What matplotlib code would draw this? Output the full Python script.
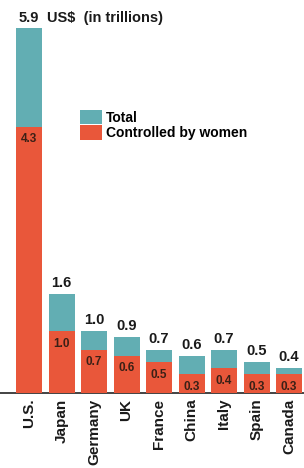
import matplotlib
matplotlib.use("Agg")
import matplotlib.pyplot as plt
import numpy as np

countries = ["U.S.", "Japan", "Germany", "UK", "France", "China", "Italy", "Spain", "Canada"]
total = [5.9, 1.6, 1.0, 0.9, 0.7, 0.6, 0.7, 0.5, 0.4]
women = [4.3, 1.0, 0.7, 0.6, 0.5, 0.3, 0.4, 0.3, 0.3]

teal = "#62aeb3"
orange = "#e9573a"
dark = "#1a1a1a"

plt.rcParams['font.family'] = ['Liberation Sans', 'DejaVu Sans']

fig = plt.figure(figsize=(3.04, 4.68), dpi=100)
ax = fig.add_axes([0, 1 - 393 / 468, 1, 365 / 468])

x = np.arange(len(countries))
ax.bar(x, total, width=0.8, color=teal, label="Total", zorder=2)
ax.bar(x, women, width=0.8, color=orange, label="Controlled by women", zorder=3)

ax.set_xlim(-29 / 32.5, (304 - 29) / 32.5)
ax.set_ylim(0, 5.9)

for i, (t, w) in enumerate(zip(total, women)):
    if i > 0:
        ax.annotate(f"{t:.1f}", (i, t), xytext=(0, 3), textcoords="offset points",
                    ha="center", va="bottom", fontsize=10.5, fontweight="bold",
                    color=dark, annotation_clip=False)
    ax.annotate(f"{w:.1f}", (i, w), xytext=(0, -9), textcoords="offset points",
                ha="center", va="center", fontsize=8.5, fontweight="bold",
                color="#3b2016", zorder=5)

ax.annotate("5.9", (0, total[0]), xytext=(0, 2), textcoords="offset points",
            ha="center", va="bottom", fontsize=10.5, fontweight="bold",
            color=dark, annotation_clip=False)
fig.text(47 / 304, 1 - 18 / 468, "US$  (in trillions)", ha="left", va="center",
         fontsize=10.5, fontweight="bold", color=dark)

for s in ["top", "right", "left"]:
    ax.spines[s].set_visible(False)
ax.spines["bottom"].set_color("#222222")
ax.spines["bottom"].set_linewidth(1.2)
ax.set_yticks([])
ax.set_xticks(x)
ax.set_xticklabels(countries, rotation=90, fontsize=11, fontweight="bold", color=dark)
ax.tick_params(axis="x", length=0, pad=4)

leg = ax.legend(loc="upper left", bbox_to_anchor=(73 / 304, (393 - 103) / 365),
                frameon=False, fontsize=10, handlelength=1.6, handleheight=1.2,
                handletextpad=0.3, labelspacing=0.05, borderpad=0)
for t in leg.get_texts():
    t.set_fontweight("bold")

fig.savefig("out.png", dpi=100, facecolor="white")
